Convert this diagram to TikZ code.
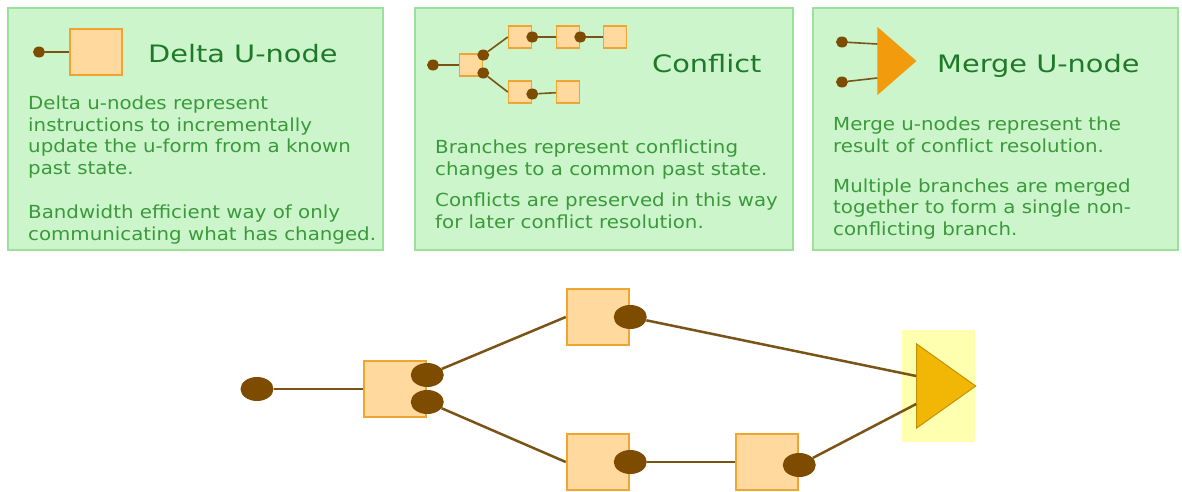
\documentclass[tikz,border=0pt]{standalone}
\usepackage{fontspec}
\setmainfont[FakeStretch=1.1]{DejaVu Sans}
\newfontfamily\titlefont[FakeStretch=1.2]{DejaVu Sans}
\usetikzlibrary{shapes.geometric}
\definecolor{panelfill}{HTML}{CCF5CC}
\definecolor{panelline}{HTML}{9CE09C}
\definecolor{bodygreen}{HTML}{3A9A3A}
\definecolor{titlegreen}{HTML}{1E7A28}
\definecolor{boxfill}{HTML}{FFD99E}
\definecolor{boxline}{HTML}{EFA530}
\definecolor{dotbrown}{HTML}{7D4C00}
\definecolor{linkbrown}{HTML}{7A5416}
\definecolor{mergegold}{HTML}{F2B705}
\definecolor{mergeorange}{HTML}{F29B0C}
\definecolor{glow}{HTML}{FFFFB0}

\begin{document}
\begin{tikzpicture}[x=1pt,y=-1pt,
    panel/.style = {fill=panelfill, draw=panelline, line width=1.2pt},
    title/.style = {anchor=base west, inner sep=0pt, text=titlegreen, font=\titlefont\fontsize{24}{28}\selectfont},
    body/.style = {anchor=base west, inner sep=0pt, align=left, text=bodygreen, font=\fontsize{18}{21.5}\selectfont},
    ubox/.style = {draw=boxline, fill=boxfill, line width=2.5pt, minimum width=62pt, minimum height=56pt, inner sep=0pt},
    udot/.style = {ellipse, fill=dotbrown, minimum width=33pt, minimum height=24pt, inner sep=0pt},
    ulink/.style = {draw=linkbrown, line width=2.5pt},
    sbox/.style = {draw=boxline, fill=boxfill, line width=1.5pt, minimum width=23pt, minimum height=22pt, inner sep=0pt},
    sdot/.style = {ellipse, fill=dotbrown, minimum width=12pt, minimum height=11pt, inner sep=0pt},
    slink/.style = {draw=linkbrown, line width=1.6pt},
    merge/.style = {isosceles triangle, isosceles triangle stretches, inner sep=0pt}]
    \fill[white] (0,0) rectangle (1182,491);
    \useasboundingbox (0,0) rectangle (1182,491);

    \draw[panel] (8,8) rectangle (383,250);
    \draw[panel] (415,8) rectangle (793,250);
    \draw[panel] (813,8) rectangle (1178,250);

    % delta u-node panel
    \node[sbox, minimum width=52pt, minimum height=46pt] (i1) at (96,52) {};
    \node[sdot] (i0) at (39,52) {};
    \draw[slink] (i0) -- (i1);
    \node[title] (t1) at (148,62) {Delta U-node};
    \node[body] (p1) at (28,174) {Delta u-nodes represent\\instructions to incrementally\\update the u-form from a known\\past state.};
    \node[body] (p2) at (28,240) {Bandwidth efficient way of only\\communicating what has changed.};

    % conflict panel
    \node[sbox] (c1) at (471,65) {};
    \node[sbox] (c2) at (520,37) {};
    \node[sbox] (c3) at (568,37) {};
    \node[sbox] (c4) at (615,37) {};
    \node[sbox] (c5) at (520,92) {};
    \node[sbox] (c6) at (568,92) {};
    \node[sdot] (c0) at (433,65) {};
    \node[sdot] (c1a) at ([yshift=10pt]c1.east) {};
    \node[sdot] (c1b) at ([yshift=-8pt]c1.east) {};
    \node[sdot] (c2a) at (c2.east) {};
    \node[sdot] (c3a) at (c3.east) {};
    \node[sdot] (c5a) at ([yshift=-2pt]c5.east) {};
    \draw[slink] (c0) -- (c1);
    \draw[slink] (c1a) -- (c2.west);
    \draw[slink] (c2a) -- (c3);
    \draw[slink] (c3a) -- (c4);
    \draw[slink] (c1b) -- (c5.west);
    \draw[slink] (c5a) -- (c6);
    \node[title] (t2) at (652,72) {Conflict};
    \node[body] (p3) at (435,175) {Branches represent conflicting\\changes to a common past state.};
    \node[body] (p4) at (435,228) {Conflicts are preserved in this way\\for later conflict resolution.};

    % merge u-node panel
    \node[merge, fill=mergeorange, minimum height=39pt, minimum width=68pt, anchor=apex] (mi) at (917,61) {};
    \node[sdot] (m0) at (842,42) {};
    \node[sdot] (m1) at (842,82) {};
    \draw[slink] (m0) -- ([yshift=17pt]mi.west);
    \draw[slink] (m1) -- ([yshift=-17pt]mi.west);
    \node[title] (t3) at (937,72) {Merge U-node};
    \node[body] (p5) at (833,152) {Merge u-nodes represent the\\result of conflict resolution.};
    \node[body] (p6) at (833,235) {Multiple branches are merged\\together to form a single non-\\conflicting branch.};

    % branch and merge example
    \node[fill=glow, minimum width=73pt, minimum height=112pt, inner sep=0pt] (hl) at (938.5,386) {};
    \node[merge, fill=mergegold, draw=mergegold!80!black, line width=1pt, minimum height=59pt, minimum width=84pt, anchor=apex] (m) at (977,386) {};
    \node[ubox] (a) at (395,389) {};
    \node[ubox] (b) at (598,317) {};
    \node[ubox] (c) at (598,462) {};
    \node[ubox] (d) at (767,462) {};
    \node[udot] (s) at (257,389) {};
    \node[udot] (a1) at ([yshift=14pt]a.east) {};
    \node[udot] (a2) at ([yshift=-13pt]a.east) {};
    \node[udot] (b1) at (b.east) {};
    \node[udot] (c1) at (c.east) {};
    \node[udot] (d1) at ([yshift=-3pt]d.east) {};
    \draw[ulink] (s) -- (a);
    \draw[ulink] (a1) -- (b.west);
    \draw[ulink] (a2) -- (c.west);
    \draw[ulink] (c1) -- (d.west);
    \draw[ulink] (b1) -- ([yshift=10pt]m.west);
    \draw[ulink] (d1) -- ([yshift=-18pt]m.west);
\end{tikzpicture}
\end{document}
